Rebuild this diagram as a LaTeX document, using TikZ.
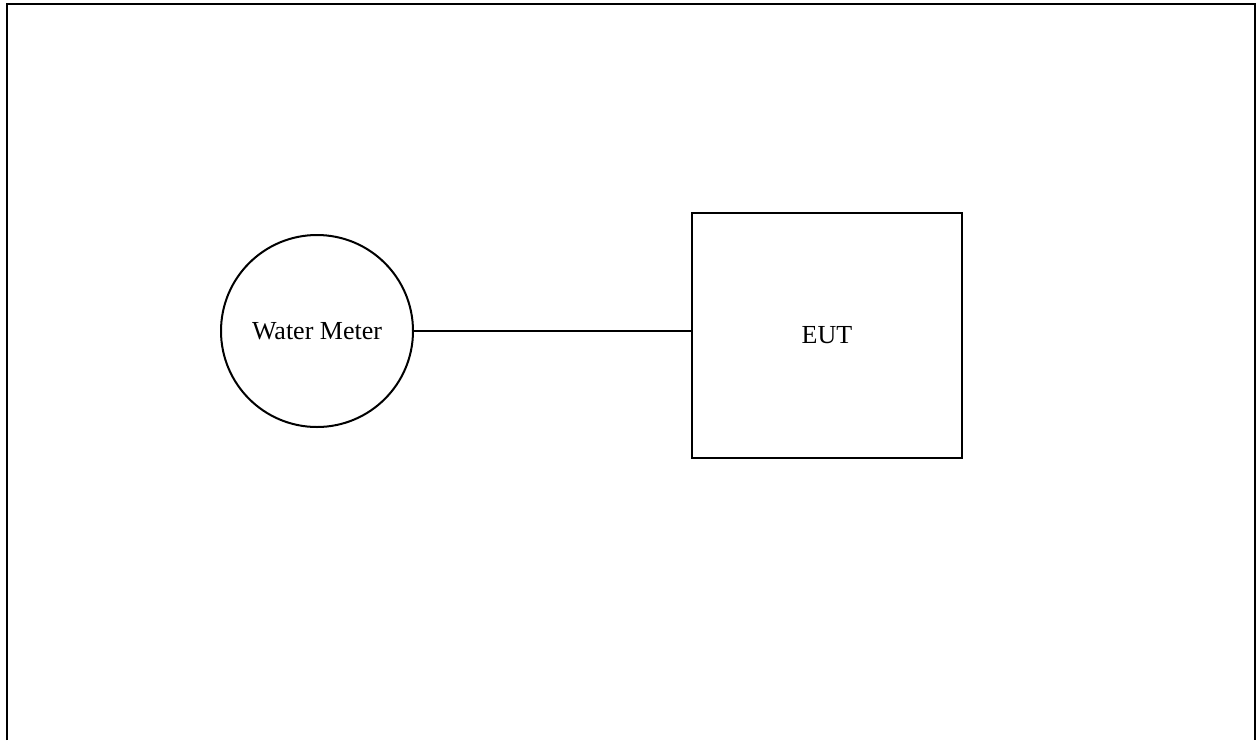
\documentclass[tikz,border=0pt]{standalone}
\usepackage{fontspec}
\setmainfont{Liberation Serif}
\begin{document}
\begin{tikzpicture}[x=1pt,y=-1pt,
  lbl/.style={font=\fontsize{26}{30}\selectfont, text=black},
  meter/.style={draw, circle, line width=2pt, minimum size=192pt, inner sep=0pt},
  eutbox/.style={draw, rectangle, line width=2.2pt, minimum width=270pt, minimum height=245pt, inner sep=0pt},
  wire/.style={line width=1.8pt}]
\useasboundingbox (0,0) rectangle (1257,740);
\coordinate (fbl) at (7,740);
\coordinate (ftl) at (7,4);
\coordinate (ftr) at (1255,4);
\coordinate (fbr) at (1255,740);
\draw[line width=2.6pt] (fbl) -- (ftl) -- (ftr) -- (fbr);
\node[meter, lbl] (wm) at (317,331) {Water Meter};
\node[eutbox, lbl] (eut) at (827,335.5) {EUT};
\draw[wire] (wm.east) -- (wm.east -| eut.west);
\end{tikzpicture}
\end{document}
